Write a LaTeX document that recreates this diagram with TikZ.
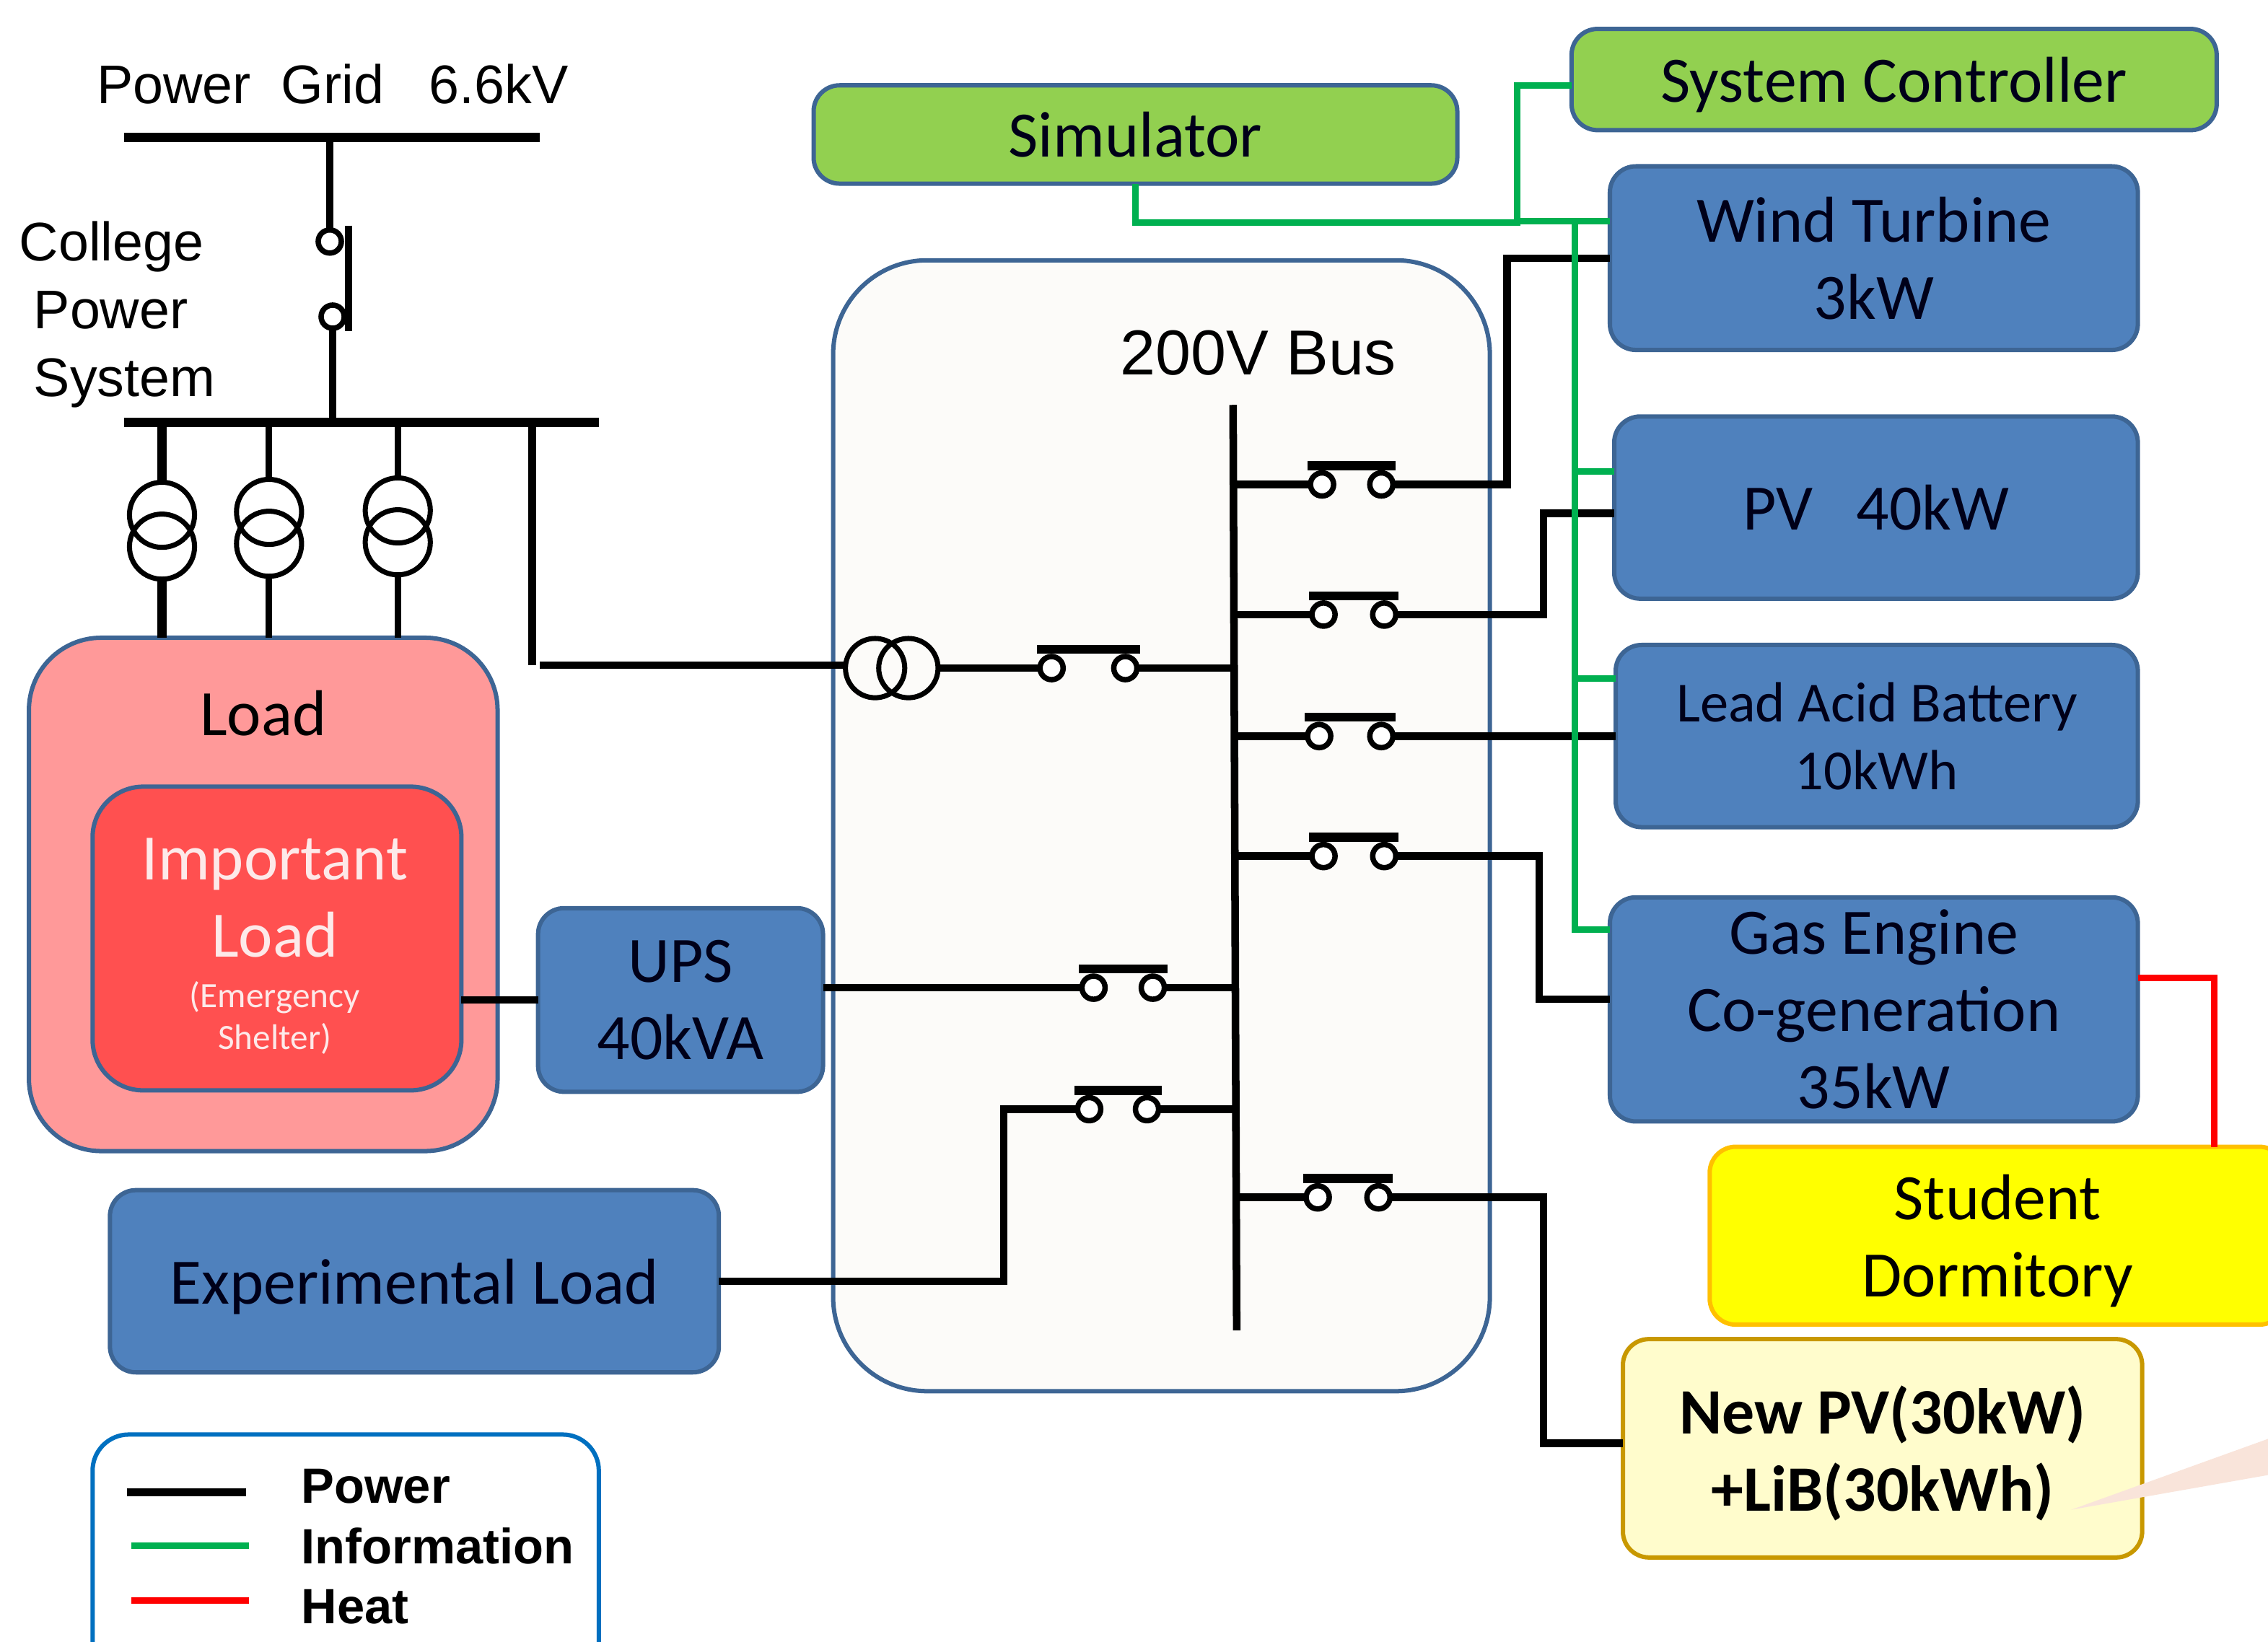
\documentclass[tikz,border=0pt]{standalone}
\usepackage{fontspec}
\setmainfont{Carlito}
\newfontfamily\arialfont{Liberation Sans}
\definecolor{boxblue}{HTML}{4F81BD}
\definecolor{edgeblue}{HTML}{3D6594}
\definecolor{infogreen}{HTML}{00B050}
\definecolor{simgreen}{HTML}{92D050}
\definecolor{panelfill}{HTML}{FCFBF9}
\definecolor{loadpink}{HTML}{FF9999}
\definecolor{imploadred}{HTML}{FF5050}
\definecolor{dormfill}{HTML}{FFFF00}
\definecolor{dormedge}{HTML}{FFC000}
\definecolor{newfill}{HTML}{FFFCCC}
\definecolor{newedge}{HTML}{C89800}
\definecolor{keyedge}{HTML}{0070C0}
\definecolor{tipfill}{HTML}{F9E4DA}
\definecolor{paletext}{HTML}{FDE9E9}
\tikzset{
  powerline/.style={line width=1.05mm},
  infoline/.style={line width=0.9mm,infogreen},
  heatline/.style={line width=0.9mm,red},
  busbar/.style={line width=1.25mm},
  contact/.style={circle,draw,fill=white,line width=0.75mm,minimum size=3.2mm,inner sep=0pt,outer sep=0pt},
  coil/.style={circle,draw,line width=0.7mm,minimum size=9mm,inner sep=0pt,outer sep=0pt},
  anybox/.style={rounded corners=3.6mm,draw=edgeblue,line width=0.6mm,inner sep=0pt,outer sep=0pt,align=center,text=black!90!blue,font=\fontsize{25.5}{30.3}\selectfont},
  unitbox/.style={anybox,fill=boxblue},
  ctrlbox/.style={anybox,fill=simgreen},
  label/.style={inner sep=0pt,outer sep=0pt,align=center,font=\arialfont\fontsize{21.4}{26.7}\selectfont},
  keylabel/.style={inner sep=0pt,anchor=west,font=\arialfont\bfseries\fontsize{19.5}{24}\selectfont}
}
\begin{document}
\begin{tikzpicture}[x=0.2mm,y=-0.2mm]
\clip (0,0) rectangle (1568,1135);
\fill[white] (0,0) rectangle (1568,1135);
% panel
\node[anybox,rounded corners=13mm,fill=panelfill,minimum width=90.8mm,minimum height=156.4mm] (panel) at (803,571) {};
\node[label,font=\arialfont\fontsize{25}{30}\selectfont] (buslabel) at (870,244) {200V Bus};
% grid side
\node[label] (gridlabel) at (230,58) {Power~~Grid~~~6.6kV};
\node[label,align=left] (college) at (81,217.5) {College\\\hspace*{2mm}Power\\\hspace*{2mm}System};
\coordinate (gridl) at (86,95);
\coordinate (gridr) at (373,95);
\coordinate (colla) at (86,292);
\coordinate (collb) at (414,292);
\draw[busbar] (gridl) -- (gridr);
\draw[busbar] (colla) -- (collb);
\node[contact] (maina) at (228,167) {};
\node[contact] (mainb) at (230,219) {};
\draw[powerline] (maina.north |- gridl) -- (maina.north);
\draw[powerline] (mainb.south) -- (mainb.south |- colla);
\draw[powerline] ([shift={(13,-11)}]maina.center) -- ([shift={(11,10)}]mainb.center);
% load
\node[anybox,rounded corners=10mm,fill=loadpink,minimum width=64.8mm,minimum height=71mm] (load) at (182,618.5) {};
\node[inner sep=0pt,font=\fontsize{25.5}{30.3}\selectfont] (loadlabel) at (182,493) {Load};
\node[anybox,rounded corners=7mm,fill=imploadred,minimum width=51mm,minimum height=42mm] (impload) at (191.5,649) {};
\node[inner sep=0pt,align=center,text=paletext,font=\fontsize{25.5}{30.3}\selectfont] (implabel) at (190,621) {Important\\Load};
\node[inner sep=0pt,align=center,text=paletext,font=\fontsize{14}{16.5}\selectfont] (shelter) at (190,704) {(Emergency\\Shelter)};
% transformers
\foreach \n/\xx/\ya/\yb/\w in {ta/112/356/378/1.2,tb/186/354/376/0.9,tc/275/353/375/0.9}{
  \node[coil] (\n-a) at (\xx,\ya) {};
  \node[coil] (\n-b) at (\xx,\yb) {};
  \draw[line width=\w mm] (\n-a.north |- colla) -- (\n-a.north);
  \draw[line width=\w mm] (\n-b.south) -- (\n-b.south |- load.north);
}
% boxes
\node[ctrlbox,minimum width=89mm,minimum height=13.6mm] (sim) at (785,93) {Simulator};
\node[ctrlbox,minimum width=89.2mm,minimum height=14mm,text depth=0pt] (ctrl) at (1309.5,55) {System Controller};
\node[unitbox,minimum width=73mm,minimum height=25.4mm] (wind) at (1295.5,178.5) {Wind Turbine\\3kW};
\node[unitbox,minimum width=72.4mm,minimum height=25.2mm] (pv) at (1297,351) {PV~~~40kW};
\node[unitbox,minimum width=72.2mm,minimum height=25.2mm,font=\fontsize{22.3}{26.7}\selectfont] (lab) at (1297.5,509) {Lead Acid Battery\\10kWh};
\node[unitbox,minimum width=73mm,minimum height=31mm] (gas) at (1295.5,698) {Gas Engine\\Co-generation\\35kW};
\node[anybox,fill=dormfill,draw=dormedge,minimum width=79.6mm,minimum height=24.6mm,text=black,text depth=0pt] (dorm) at (1381,854.5) {Student\\Dormitory};
\node[anybox,fill=newfill,draw=newedge,minimum width=71.8mm,minimum height=30.2mm,text=black,text depth=0pt,font=\bfseries\fontsize{25.5}{30.3}\selectfont] (newpv) at (1301.5,1001.5) {New PV(30kW)\\+LiB(30kWh)};
\node[unitbox,minimum width=39.4mm,minimum height=25.4mm] (ups) at (470.5,691.5) {UPS\\40kVA};
\node[unitbox,minimum width=84.2mm,minimum height=25.2mm,text depth=0pt] (explab) at (286.5,886) {Experimental Load};
% breakers
\foreach \n/\xa/\xb/\yy in {mains/727/778/462,bwt/914/955/335,bpv/915/957/425,bba/912/955/509,bge/915/957/592,bnew/911/953/828,bups/756/797/683,bexp/753/793/767}{
  \node[contact] (\n-a) at (\xa,\yy) {};
  \node[contact] (\n-b) at (\xb,\yy) {};
  \draw[busbar] ([shift={(-10,-13)}]\n-a.center) -- ([shift={(10,-13)}]\n-b.center);
}
% 200V bus
\coordinate (bustop) at (852.5,280);
\coordinate (busend) at (855,920);
\draw[powerline] (bustop) -- (busend);
\foreach \n in {bwt,bpv,bba,bge,bnew}
  \draw[powerline] (\n-a.west -| busend) -- (\n-a.west);
\foreach \n in {mains,bups,bexp}
  \draw[powerline] (\n-b.east) -- (\n-b.east -| bustop);
% bus transformer
\node[coil,minimum size=8.2mm] (tda) at (605,462) {};
\node[coil,minimum size=8.2mm] (tdb) at (628,462) {};
\draw[powerline] (tdb.east) -- (mains-a.west);
\coordinate (feedup) at (368,292);
\coordinate (feeddown) at (368,460);
\draw[powerline] (feedup) -- (feeddown);
\draw[powerline] ([xshift=1mm]feeddown) -- (tda.west |- feeddown);
% power lines
\draw[powerline] (bwt-b.east) -- ++(79,0) |- (wind.west);
\coordinate (pvin) at (1116,355);
\draw[powerline] (bpv-b.east) -- ++(102,0) |- (pvin);
\draw[powerline] (bba-b.east) -- (bba-b.east -| lab.west);
\coordinate (gasin) at (1113,691);
\draw[powerline] (bge-b.east) -- ++(99,0) |- (gasin);
\coordinate (newin) at (1122,998);
\draw[powerline] (bnew-b.east) -- ++(106,0) |- (newin);
\draw[powerline] (bups-a.west) -- (bups-a.west -| ups.east);
\draw[powerline] (bexp-a.west) -- ++(-51,0) |- (explab.east);
\draw[powerline] (impload.east |- ups.west) -- (ups.west);
% information lines
\coordinate (infotop) at (1049,153);
\draw[infoline] (sim.south) -- ++(0,27) -| (infotop) -- (wind.west |- infotop);
\draw[infoline] (infotop) -- (1049,59) -- (ctrl.west |- 1049,59);
\coordinate (infodown) at (1089,153);
\coordinate (gasinfo) at (1113,643);
\draw[infoline] (infodown) |- (gasinfo);
\draw[infoline] (infodown |- 0,326) -- (pv.west |- 0,326);
\draw[infoline] (infodown |- 0,469) -- (lab.west |- 0,469);
% heat line
\coordinate (gasheat) at (1478,676);
\draw[heatline] (gasheat) -- (1531,676) -- (1531,793);
% callout tip
\fill[tipfill] (1432,1044) -- (1568,995) -- (1568,1020) -- cycle;
% legend
\node[anybox,rounded corners=5mm,fill=white,draw=keyedge,minimum width=70mm,minimum height=34mm] (legend) at (239,1077) {};
\coordinate (keya) at (88,1032);
\coordinate (keyb) at (91,1069);
\coordinate (keyc) at (91,1107);
\draw[powerline] (keya) -- ++(82,0);
\draw[infoline] (keyb) -- ++(81,0);
\draw[heatline] (keyc) -- ++(81,0);
\node[keylabel] (keypower) at (208,1028) {Power};
\node[keylabel] (keyinfo) at (208,1069) {Information};
\node[keylabel] (keyheat) at (208,1111) {Heat};
\end{tikzpicture}
\end{document}
